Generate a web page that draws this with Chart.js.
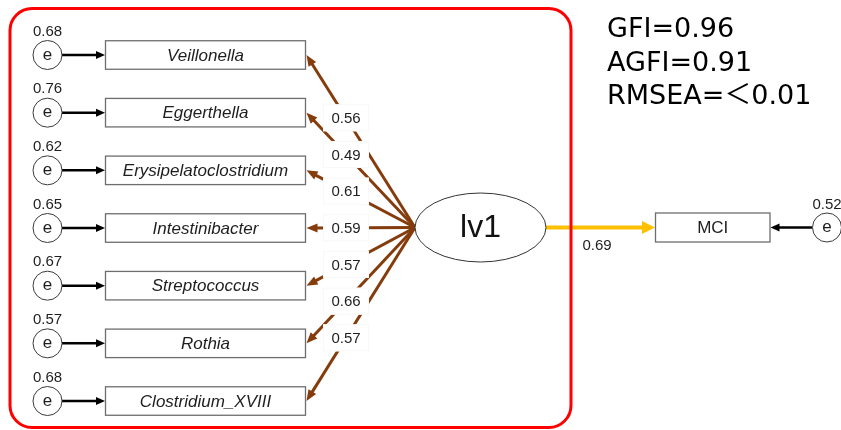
<!DOCTYPE html>
<html>
<head>
<meta charset="utf-8">
<script src="https://cdn.jsdelivr.net/npm/chart.js@4"></script>
<style>
  html, body { margin: 0; padding: 0; background: #ffffff; }
  #wrap { width: 841px; height: 430px; position: relative; }
</style>
</head>
<body>
<div id="wrap"><canvas id="sem"></canvas></div>
<script>
// Measurement model: observed genera loading on latent factor lv1, which predicts MCI
const indicators = ['Veillonella', 'Eggerthella', 'Erysipelatoclostridium', 'Intestinibacter',
                    'Streptococcus', 'Rothia', 'Clostridium_XVIII'];
const loadings = [0.56, 0.49, 0.61, 0.59, 0.57, 0.66, 0.57];
const errorVariances = [0.68, 0.76, 0.62, 0.65, 0.67, 0.57, 0.68];
const latentName = 'lv1';
const outcomeName = 'MCI';
const pathCoef = 0.69;
const outcomeError = 0.52;
const fitNames = ['GFI', 'AGFI', 'RMSEA'];
const fitValues = ['0.96', '0.91', '＜0.01'];

// Diagram geometry (in axis units, 1 unit = 1 px)
const L = {
  W: 841, H: 430,
  rowTop: 55, rowStep: 57.67,
  errX: 47.5, errR: 14.5,
  boxL: 105.5, boxR: 305.5, boxH: 28.5,
  lv: { x: 480.5, y: 227.5, rx: 65.5, ry: 34.5 },
  labelX: 346, labelW: 46, labelH: 27,
  out: { l: 655.5, r: 770, y: 227.5, h: 29 },
  outErrX: 827,
  frame: { l: 10, t: 8.5, r: 571, b: 427.5, rad: 22 },
  fitX: 607, fitBase: 37, fitStep: 33.5
};
const BROWN = '#843C0C';
const GOLD = '#FFC000';
const TEXT = '#1e1e1e';
const SANS = '"Liberation Sans", Arial, sans-serif';

const rowY = i => L.rowTop + i * L.rowStep;
const fmt = v => v.toFixed(2);

// shorten a segment end so the arrowhead covers the shaft tip
function shortened(x0, y0, x1, y1, d) {
  const len = Math.hypot(x1 - x0, y1 - y0);
  return { x: x1 - (x1 - x0) / len * d, y: y1 - (y1 - y0) / len * d };
}

const lvLeft = { x: L.lv.x - L.lv.rx, y: L.lv.y };

const datasets = [];
// factor loadings: lv1 -> indicator boxes
indicators.forEach((name, i) => {
  const tip = { x: L.boxR + 1, y: rowY(i) };
  datasets.push({
    type: 'line', label: name, order: 3,
    data: [lvLeft, shortened(lvLeft.x, lvLeft.y, tip.x, tip.y, 7)],
    borderColor: BROWN, borderWidth: 3, pointRadius: 0, showLine: true, tension: 0
  });
});
// residual -> indicator
indicators.forEach((name, i) => {
  datasets.push({
    type: 'line', label: 'e ' + name, order: 3,
    data: [{ x: L.errX + L.errR, y: rowY(i) }, { x: L.boxL - 6, y: rowY(i) }],
    borderColor: '#000000', borderWidth: 2.5, pointRadius: 0, showLine: true
  });
});
// structural path lv1 -> MCI
datasets.push({
  type: 'line', label: 'path', order: 3,
  data: [{ x: L.lv.x + L.lv.rx, y: L.lv.y }, { x: L.out.l - 8, y: L.out.y }],
  borderColor: GOLD, borderWidth: 4, pointRadius: 0, showLine: true
});
// residual -> MCI
datasets.push({
  type: 'line', label: 'e MCI', order: 3,
  data: [{ x: L.outErrX - L.errR, y: L.out.y }, { x: L.out.r + 6, y: L.out.y }],
  borderColor: '#000000', borderWidth: 2.5, pointRadius: 0, showLine: true
});
// residual nodes
datasets.push({
  type: 'scatter', label: 'residuals', order: 1,
  data: errorVariances.map((v, i) => ({ x: L.errX, y: rowY(i) }))
        .concat([{ x: L.outErrX, y: L.out.y }]),
  pointRadius: L.errR, pointHoverRadius: L.errR,
  backgroundColor: '#ffffff', borderColor: '#3a3a3a', borderWidth: 1
});

function arrowHead(ctx, fx, fy, tx, ty, len, half, color) {
  const a = Math.atan2(ty - fy, tx - fx);
  ctx.save();
  ctx.fillStyle = color;
  ctx.beginPath();
  ctx.moveTo(tx, ty);
  ctx.lineTo(tx - len * Math.cos(a) + half * Math.sin(a), ty - len * Math.sin(a) - half * Math.cos(a));
  ctx.lineTo(tx - len * Math.cos(a) - half * Math.sin(a), ty - len * Math.sin(a) + half * Math.cos(a));
  ctx.closePath();
  ctx.fill();
  ctx.restore();
}

const diagram = {
  id: 'diagram',
  afterDatasetsDraw(chart) {
    const { ctx, scales: { x, y } } = chart;
    const px = v => x.getPixelForValue(v);
    const py = v => y.getPixelForValue(v);
    ctx.save();
    ctx.textAlign = 'center';
    ctx.textBaseline = 'middle';

    const lx = px(lvLeft.x), ly = py(lvLeft.y);
    indicators.forEach((name, i) => {
      const cy = py(rowY(i));
      const tx = px(L.boxR + 1);
      arrowHead(ctx, lx, ly, tx, cy, 11, 4.5, BROWN);
      // loading label where the path crosses labelX
      const t = (lvLeft.x - L.labelX) / (lvLeft.x - (L.boxR + 1));
      const ly2 = lvLeft.y + t * (rowY(i) - lvLeft.y);
      const bx = px(L.labelX), by = py(ly2);
      ctx.fillStyle = '#ffffff';
      ctx.fillRect(bx - L.labelW / 2, by - L.labelH / 2, L.labelW, L.labelH);
      ctx.strokeStyle = '#f8f8f8';
      ctx.lineWidth = 1;
      ctx.strokeRect(bx - L.labelW / 2 + 0.5, by - L.labelH / 2 + 0.5, L.labelW - 1, L.labelH - 1);
      ctx.fillStyle = TEXT;
      ctx.font = '15px ' + SANS;
      ctx.fillText(fmt(loadings[i]), bx, by + 1);

      // indicator box
      const bl = px(L.boxL), br = px(L.boxR);
      ctx.fillStyle = '#ffffff';
      ctx.fillRect(bl, cy - L.boxH / 2, br - bl, L.boxH);
      ctx.strokeStyle = '#6e6e6e';
      ctx.lineWidth = 1.3;
      ctx.strokeRect(bl, cy - L.boxH / 2, br - bl, L.boxH);
      ctx.fillStyle = TEXT;
      ctx.font = 'italic 17px ' + SANS;
      ctx.fillText(name, (bl + br) / 2, cy + 1);

      // residual arrow head, "e" and variance
      arrowHead(ctx, px(L.errX), cy, bl - 0.5, cy, 9, 4, '#000000');
      ctx.font = '17px ' + SANS;
      ctx.fillText('e', px(L.errX), cy);
      ctx.font = '15px ' + SANS;
      ctx.fillText(fmt(errorVariances[i]), px(L.errX), cy - 23.5);
    });

    // latent variable
    ctx.beginPath();
    ctx.ellipse(px(L.lv.x), py(L.lv.y), L.lv.rx, L.lv.ry, 0, 0, Math.PI * 2);
    ctx.fillStyle = '#ffffff';
    ctx.fill();
    ctx.strokeStyle = '#333333';
    ctx.lineWidth = 1;
    ctx.stroke();
    ctx.fillStyle = '#111111';
    ctx.font = '32px ' + SANS;
    ctx.fillText(latentName, px(L.lv.x), py(L.lv.y) + 1);

    // structural path to outcome
    const oy = py(L.out.y);
    arrowHead(ctx, px(L.lv.x), oy, px(L.out.l) - 0.5, oy, 13, 6.5, GOLD);
    ctx.fillStyle = TEXT;
    ctx.font = '15px ' + SANS;
    ctx.fillText(fmt(pathCoef), px(597), oy + 18.5);

    // outcome box
    const ol = px(L.out.l), or = px(L.out.r);
    ctx.fillStyle = '#ffffff';
    ctx.fillRect(ol, oy - L.out.h / 2, or - ol, L.out.h);
    ctx.strokeStyle = '#6e6e6e';
    ctx.lineWidth = 1.3;
    ctx.strokeRect(ol, oy - L.out.h / 2, or - ol, L.out.h);
    ctx.fillStyle = TEXT;
    ctx.font = '17px ' + SANS;
    ctx.fillText(outcomeName, (ol + or) / 2, oy + 1);
    arrowHead(ctx, px(L.outErrX), oy, or + 0.5, oy, 9, 4, '#000000');
    ctx.fillText('e', px(L.outErrX), oy);
    ctx.font = '15px ' + SANS;
    ctx.fillText(fmt(outcomeError), px(L.outErrX), oy - 23);

    // fit indices
    ctx.textAlign = 'left';
    ctx.textBaseline = 'alphabetic';
    ctx.fillStyle = '#000000';
    ctx.font = '27px "DejaVu Sans", "Noto Sans CJK JP", sans-serif';
    fitNames.forEach((n, i) => {
      ctx.fillText(n + '=' + fitValues[i], px(L.fitX), py(L.fitBase + i * L.fitStep));
    });

    // frame around the measurement part
    const f = L.frame;
    ctx.beginPath();
    ctx.roundRect(px(f.l), py(f.t), px(f.r) - px(f.l), py(f.b) - py(f.t), f.rad);
    ctx.strokeStyle = '#FF0000';
    ctx.lineWidth = 3;
    ctx.stroke();
    ctx.restore();
  }
};

new Chart(document.getElementById('sem'), {
  type: 'scatter',
  data: { datasets },
  options: {
    responsive: true,
    maintainAspectRatio: false,
    animation: false,
    events: [],
    layout: { padding: 0, autoPadding: false },
    plugins: { legend: { display: false }, tooltip: { enabled: false } },
    scales: {
      x: { type: 'linear', min: 0, max: L.W, display: false },
      y: { type: 'linear', min: 0, max: L.H, reverse: true, display: false }
    }
  },
  plugins: [diagram]
});
</script>
</body>
</html>
